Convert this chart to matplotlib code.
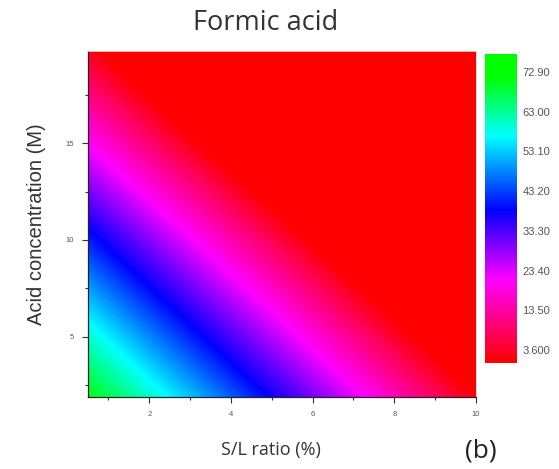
import numpy as np
import matplotlib.pyplot as plt
from matplotlib.colors import LinearSegmentedColormap, Normalize
from matplotlib.cm import ScalarMappable
from matplotlib.ticker import MultipleLocator

plt.rcParams["font.family"] = ["Liberation Sans", "DejaVu Sans"]

# S/L ratio (%) and acid concentration (M) grid of the response surface
sl_ratio = np.array([0.5, 2.0, 4.0, 6.0, 8.0, 10.0])
acid_conc = np.array([1.9, 5.0, 10.0, 15.0, 19.75])

# leaching response on the grid, one row per acid concentration
resp_19 = [71.0, 59.9, 45.1, 30.3, 15.5, 0.7]
resp_50 = [59.5, 48.2, 33.4, 18.6, 3.8, -11.0]
resp_100 = [40.5, 29.2, 14.4, -0.4, -15.2, -30.0]
resp_150 = [20.5, 9.3, -5.5, -20.3, -35.1, -49.9]
resp_198 = [2.5, -8.8, -23.6, -38.4, -53.2, -68.0]

cbar_ticks = [3.6, 13.5, 23.4, 33.3, 43.2, 53.1, 63.0, 72.9]
cbar_labels = ["3.600", "13.50", "23.40", "33.30", "43.20", "53.10", "63.00", "72.90"]
vmin, vmax = 0.36, 77.4

Z = np.array([resp_19, resp_50, resp_100, resp_150, resp_198])

cmap = LinearSegmentedColormap.from_list(
    "rgbw", [(0.0, "#ff0000"), (0.268, "#ff00ff"), (0.495, "#0000ff"),
             (0.735, "#00ffff"), (0.93, "#00ff00"), (1.0, "#00ff00")])
cmap.set_under("#ff0000")
cmap.set_over("#00ff00")
norm = Normalize(vmin=vmin, vmax=vmax)

fig = plt.figure(figsize=(5.59, 4.69), dpi=100)
ax = fig.add_axes([0.1574, 0.1535, 0.694, 0.7378])
cax = fig.add_axes([0.8676, 0.226, 0.0572, 0.6588])

levels = np.linspace(vmin, vmax, 300)
ax.contourf(sl_ratio, acid_conc, Z, levels=levels, cmap=cmap, norm=norm,
            extend="both", antialiased=False)
ax.set_xlim(0.5, 10)
ax.set_ylim(1.9, 19.75)

ax.xaxis.set_major_locator(MultipleLocator(2))
ax.xaxis.set_minor_locator(MultipleLocator(1))
ax.yaxis.set_major_locator(MultipleLocator(5))
ax.yaxis.set_minor_locator(MultipleLocator(2.5))
ax.tick_params(which="both", direction="out", colors="#333333",
               labelcolor="#555555", labelsize=5.5, width=0.8)
ax.tick_params(which="major", length=4)
ax.tick_params(which="minor", length=2.5)
ax.tick_params(axis="x", pad=6)
ax.tick_params(axis="y", pad=6)
for side in ["left", "bottom"]:
    ax.spines[side].set_color("#222222")
    ax.spines[side].set_linewidth(0.9)
for side in ["top", "right"]:
    ax.spines[side].set_color("#dddddd")
    ax.spines[side].set_linewidth(0.6)

ax.set_ylabel("Acid concentration (M)", fontsize=14.5, color="#333333",
              labelpad=14)

# title, x label and panel letter placed in figure coordinates
fig.text(0.476, 0.951, "Formic acid", fontsize=19.5, family="Open Sans",
         color="#333333", ha="center", va="center")
fig.text(0.485, 0.040, "S/L ratio (%)", fontsize=13, family="Open Sans",
         color="#333333", ha="center", va="center")
fig.text(0.861, 0.038, "(b)", fontsize=19, family="Open Sans",
         color="#222222", ha="center", va="center")

cb = fig.colorbar(ScalarMappable(norm=norm, cmap=cmap), cax=cax)
cb.set_ticks(cbar_ticks)
cb.set_ticklabels(cbar_labels)
cb.outline.set_visible(False)
cax.tick_params(length=0, labelsize=8, labelcolor="#555555", pad=4)

fig.savefig("out.png", dpi=100)
